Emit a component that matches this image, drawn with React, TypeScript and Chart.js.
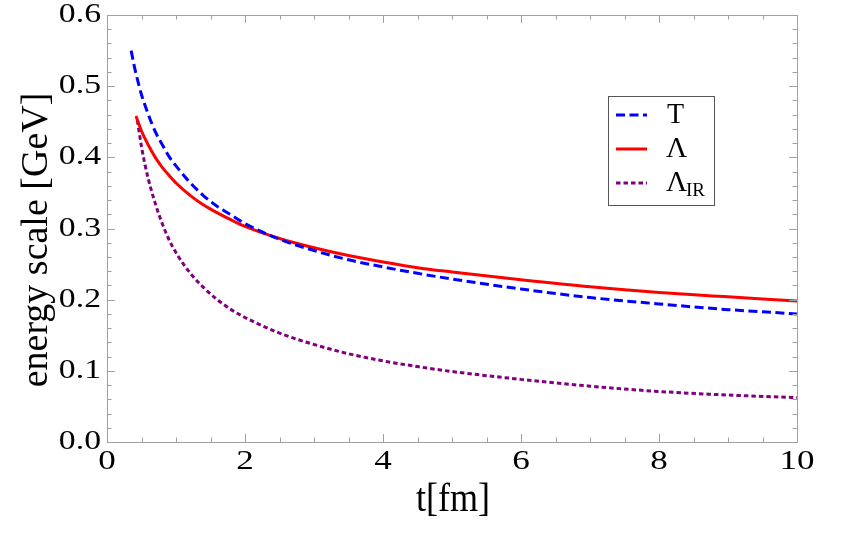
import { useEffect, useRef } from "react";
import { Chart, registerables } from "chart.js";

Chart.register(...registerables);

// Temperature T(t) [GeV]
const T_TIMES = [0.35, 0.4, 0.45, 0.5, 0.6, 0.7, 0.8, 0.9, 1.0, 1.2, 1.4, 1.6, 1.8, 2.0, 2.5, 3.0, 3.5, 4.0, 4.5, 5.0, 6.0, 7.0, 8.0, 9.0, 10.0];
const T_GEV = [0.55, 0.526, 0.506, 0.488, 0.46, 0.436, 0.418, 0.401, 0.388, 0.365, 0.346, 0.331, 0.319, 0.307, 0.285, 0.269, 0.256, 0.246, 0.237, 0.229, 0.215, 0.203, 0.194, 0.186, 0.18];

// Λ(t) [GeV]
const LAMBDA_TIMES = [0.42, 0.45, 0.5, 0.6, 0.7, 0.8, 0.9, 1.0, 1.2, 1.4, 1.6, 1.8, 2.0, 2.5, 3.0, 3.5, 4.0, 4.5, 5.0, 6.0, 7.0, 8.0, 9.0, 10.0];
const LAMBDA_GEV = [0.458, 0.45, 0.437, 0.417, 0.4, 0.386, 0.3745, 0.364, 0.347, 0.333, 0.322, 0.312, 0.303, 0.286, 0.273, 0.262, 0.253, 0.245, 0.239, 0.228, 0.218, 0.21, 0.204, 0.198];

// Λ_IR(t) [GeV]
const LAMBDA_IR_TIMES = [0.44, 0.47, 0.5, 0.55, 0.6, 0.7, 0.8, 0.9, 1.0, 1.2, 1.4, 1.6, 1.8, 2.0, 2.5, 3.0, 3.5, 4.0, 4.5, 5.0, 6.0, 7.0, 8.0, 9.0, 10.0];
const LAMBDA_IR_GEV = [0.452, 0.433, 0.415, 0.39, 0.369, 0.335, 0.307, 0.284, 0.266, 0.238, 0.217, 0.2, 0.186, 0.175, 0.153, 0.137, 0.124, 0.114, 0.106, 0.099, 0.088, 0.0785, 0.071, 0.066, 0.0624];

// Axis ticks
const X_MAJOR = [0, 2, 4, 6, 8, 10];
const X_TICK_LABELS = ["0", "2", "4", "6", "8", "10"];
const Y_MAJOR = [0, 0.1, 0.2, 0.3, 0.4, 0.5, 0.6];
const Y_TICK_LABELS = ["0.0", "0.1", "0.2", "0.3", "0.4", "0.5", "0.6"];
const X_MINOR_STEP = 0.5;
const Y_MINOR_STEP = 0.02;

const SERIF = "'Liberation Serif', 'DejaVu Serif', serif";

function pairs(xs: number[], ys: number[]) {
  return xs.map((x, i) => ({ x, y: ys[i] }));
}

function drawText(
  ctx: CanvasRenderingContext2D,
  text: string,
  x: number,
  y: number,
  size: number,
  sx: number,
  sy: number,
  align: CanvasTextAlign,
  rotate = 0
) {
  ctx.save();
  ctx.translate(x, y);
  if (rotate) ctx.rotate(rotate);
  ctx.scale(sx, sy);
  ctx.font = `${size}px ${SERIF}`;
  ctx.textAlign = align;
  ctx.textBaseline = "middle";
  ctx.fillStyle = "#000";
  ctx.fillText(text, 0, 0);
  ctx.restore();
}

const framePlugin = {
  id: "frameAxes",
  afterDraw(chart: any) {
    const { ctx, chartArea } = chart;
    const xs = chart.scales.x;
    const ys = chart.scales.y;
    const { left, right, top, bottom } = chartArea;

    ctx.save();
    ctx.strokeStyle = "#a0a0a0";
    ctx.lineWidth = 1;
    ctx.strokeRect(Math.round(left) + 0.5, Math.round(top) + 0.5, Math.round(right - left), Math.round(bottom - top));

    const major = 8;
    const minor = 4.5;
    ctx.beginPath();
    for (let v = 0; v <= 10.0001; v += X_MINOR_STEP) {
      const isMajor = X_MAJOR.some((m) => Math.abs(m - v) < 1e-6);
      const len = isMajor ? major : minor;
      const px = Math.round(xs.getPixelForValue(v)) + 0.5;
      ctx.moveTo(px, bottom);
      ctx.lineTo(px, bottom - len);
      ctx.moveTo(px, top);
      ctx.lineTo(px, top + len);
    }
    for (let v = 0; v <= 0.60001; v += Y_MINOR_STEP) {
      const isMajor = Y_MAJOR.some((m) => Math.abs(m - v) < 1e-6);
      const len = isMajor ? major : minor;
      const py = Math.round(ys.getPixelForValue(v)) + 0.5;
      ctx.moveTo(left, py);
      ctx.lineTo(left + len, py);
      ctx.moveTo(right, py);
      ctx.lineTo(right - len, py);
    }
    ctx.stroke();
    ctx.restore();

    // tick labels
    X_MAJOR.forEach((v, i) => {
      drawText(ctx, X_TICK_LABELS[i], xs.getPixelForValue(v), bottom + 20, 27, 1.3, 1, "center");
    });
    Y_MAJOR.forEach((v, i) => {
      drawText(ctx, Y_TICK_LABELS[i], left - 6, ys.getPixelForValue(v), 27, 1.25, 1, "right");
    });

    // axis titles
    drawText(ctx, "t[fm]", 453, 501, 38, 0.95, 1.05, "center");
    drawText(ctx, "energy scale [GeV]", 37, 240, 38, 1, 1, "center", -Math.PI / 2);

    // legend
    const bx = 608;
    const by = 96;
    const bw = 106;
    const bh = 109;
    ctx.save();
    ctx.strokeStyle = "#555";
    ctx.lineWidth = 1;
    ctx.strokeRect(bx + 0.5, by + 0.5, bw, bh);
    ctx.restore();

    const rows = [115, 149, 183];
    chart.data.datasets.forEach((ds: any, i: number) => {
      const y = rows[i];
      ctx.save();
      ctx.strokeStyle = ds.borderColor;
      ctx.lineWidth = ds.borderWidth;
      ctx.setLineDash(ds.borderDash || []);
      ctx.beginPath();
      ctx.moveTo(616, y);
      ctx.lineTo(647, y);
      ctx.stroke();
      ctx.restore();
    });
    drawText(ctx, "T", 667, rows[0], 28, 1, 1.05, "left");
    drawText(ctx, "Λ", 666, rows[1], 28, 1.05, 1.05, "left");
    drawText(ctx, "Λ", 666, rows[2], 28, 1.05, 1.05, "left");
    drawText(ctx, "IR", 686, rows[2] + 8, 19, 1, 1, "left");
  },
};

export default function App() {
  const canvasRef = useRef<HTMLCanvasElement | null>(null);

  useEffect(() => {
    const canvas = canvasRef.current;
    if (!canvas) return;
    const chart = new Chart(canvas, {
      type: "line",
      data: {
        datasets: [
          {
            label: "T",
            data: pairs(T_TIMES, T_GEV),
            borderColor: "#0000ff",
            borderWidth: 3,
            borderDash: [9, 4.5],
            pointRadius: 0,
            fill: false,
            cubicInterpolationMode: "monotone",
          },
          {
            label: "Λ",
            data: pairs(LAMBDA_TIMES, LAMBDA_GEV),
            borderColor: "#ff0000",
            borderWidth: 3,
            borderDash: [],
            pointRadius: 0,
            fill: false,
            cubicInterpolationMode: "monotone",
          },
          {
            label: "Λ_IR",
            data: pairs(LAMBDA_IR_TIMES, LAMBDA_IR_GEV),
            borderColor: "#800080",
            borderWidth: 3,
            borderDash: [4.5, 3],
            pointRadius: 0,
            fill: false,
            cubicInterpolationMode: "monotone",
          },
        ],
      },
      options: {
        animation: false,
        responsive: false,
        maintainAspectRatio: false,
        devicePixelRatio: 1,
        layout: { padding: { left: 107, right: 66, top: 15, bottom: 97 } },
        plugins: { legend: { display: false }, tooltip: { enabled: false } },
        scales: {
          x: { type: "linear", min: 0, max: 10, display: false },
          y: { type: "linear", min: 0, max: 0.6, display: false },
        },
      },
      plugins: [framePlugin],
    });
    return () => chart.destroy();
  }, []);

  return (
    <div style={{ position: "fixed", left: 0, top: 0, width: 863, height: 539, background: "#fff" }}>
      <canvas ref={canvasRef} width={863} height={539} style={{ width: 863, height: 539 }} />
    </div>
  );
}
